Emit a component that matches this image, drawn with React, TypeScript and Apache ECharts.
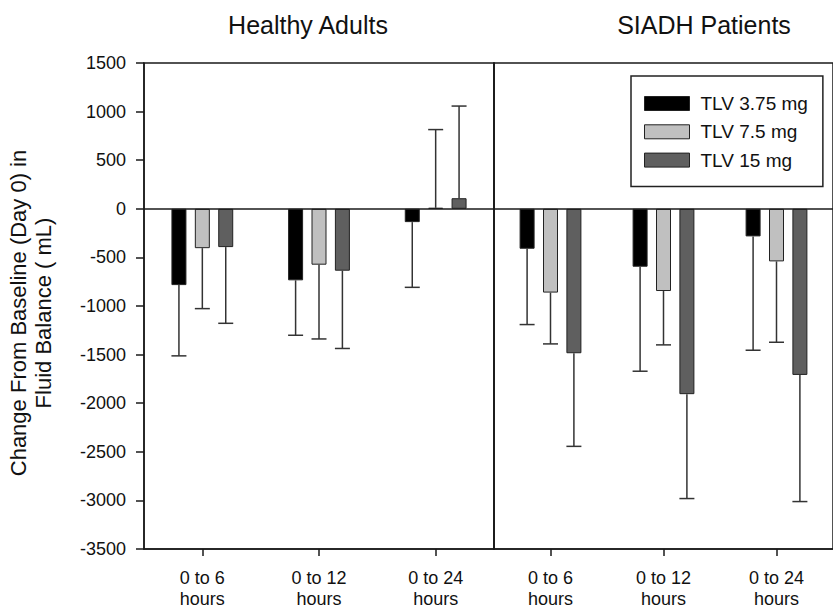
import React, { useEffect, useRef } from "react";
import * as echarts from "echarts";

const categories = ["0 to 6\nhours", "0 to 12\nhours", "0 to 24\nhours"];
const seriesNames = ["TLV 3.75 mg", "TLV 7.5 mg", "TLV 15 mg"];
const yTicks = { min: -3500, max: 1500, interval: 500 };

// Healthy Adults: mean and error-bar end
const healthy375 = [-785, -736, -137];
const healthy375Err = [-1513, -1301, -808];
const healthy75 = [-405, -575, 10];
const healthy75Err = [-1027, -1339, 815];
const healthy15 = [-394, -637, 109];
const healthy15Err = [-1178, -1437, 1057];

// SIADH Patients
const siadh375 = [-411, -596, -284];
const siadh375Err = [-1191, -1671, -1455];
const siadh75 = [-862, -846, -541];
const siadh75Err = [-1390, -1400, -1373];
const siadh15 = [-1486, -1907, -1709];
const siadh15Err = [-2444, -2981, -3012];

const colors = ["#000000", "#c0c0c0", "#5f5f5f"];
const FONT = "'Liberation Sans', Arial, Helvetica, sans-serif";
const LINE = "#1a1a1a";

export default function App() {
  const ref = useRef<HTMLDivElement>(null);
  useEffect(() => {
    if (!ref.current) return;
    const chart = echarts.init(ref.current, null, { renderer: "svg" });

    const groups = [
      { vals: [healthy375, healthy75, healthy15], errs: [healthy375Err, healthy75Err, healthy15Err] },
      { vals: [siadh375, siadh75, siadh15], errs: [siadh375Err, siadh75Err, siadh15Err] },
    ];
    const offsets = [-23.4, 0, 23.4];

    const series: any[] = [];
    groups.forEach((g, gi) => {
      g.vals.forEach((vals, si) => {
        const s: any = {
          type: "bar",
          name: seriesNames[si],
          xAxisIndex: gi,
          yAxisIndex: gi,
          data: vals,
          barWidth: 15,
          barGap: "56%",
          itemStyle: { color: colors[si], borderColor: "#222", borderWidth: 1 },
          z: 2,
        };
        if (si === 0) {
          s.markLine = {
            silent: true,
            symbol: "none",
            label: { show: false },
            lineStyle: { color: LINE, width: 1.5, type: "solid" },
            data: [{ yAxis: 0 }],
            z: 5,
          };
        }
        series.push(s);
      });
      g.errs.forEach((errs, si) => {
        series.push({
          type: "custom",
          name: "err" + gi + "_" + si,
          xAxisIndex: gi,
          yAxisIndex: gi,
          z: 3,
          encode: { x: 0, y: [1, 2] },
          data: errs.map((e, ci) => [ci, g.vals[si][ci], e]),
          renderItem: (params: any, api: any) => {
            const cat = api.value(0);
            const p0 = api.coord([cat, api.value(1)]);
            const p1 = api.coord([cat, api.value(2)]);
            const x = p0[0] + offsets[si];
            const st = { stroke: "#333", lineWidth: 1.5 };
            return {
              type: "group",
              children: [
                { type: "line", shape: { x1: x, y1: p0[1], x2: x, y2: p1[1] }, style: st },
                { type: "line", shape: { x1: x - 7.5, y1: p1[1], x2: x + 7.5, y2: p1[1] }, style: st },
              ],
            };
          },
        });
      });
    });

    const xAxisCommon = (gi: number) => ({
      type: "category",
      gridIndex: gi,
      data: categories,
      axisLine: { show: true, onZero: false, lineStyle: { color: LINE, width: 1.5 } },
      axisTick: { show: true, alignWithLabel: true, length: 7, lineStyle: { color: LINE, width: 1.5 } },
      axisLabel: { color: "#111", fontSize: 18, lineHeight: 21, margin: 18, fontFamily: FONT },
      splitLine: { show: false },
    });

    chart.setOption({
      animation: false,
      backgroundColor: "#ffffff",
      grid: [
        { left: 144, top: 63, width: 350, height: 487, show: true, borderColor: LINE, borderWidth: 1.5, backgroundColor: "transparent" },
        { left: 494, top: 63, width: 350, height: 487, show: true, borderColor: LINE, borderWidth: 1.5, backgroundColor: "transparent" },
      ],
      xAxis: [xAxisCommon(0), xAxisCommon(1)],
      yAxis: [
        {
          type: "value",
          gridIndex: 0,
          min: yTicks.min,
          max: yTicks.max,
          interval: yTicks.interval,
          axisLine: { show: true, lineStyle: { color: LINE, width: 1.5 } },
          axisTick: { show: true, length: 8, lineStyle: { color: LINE, width: 1.5 } },
          axisLabel: { color: "#111", fontSize: 18, margin: 18, fontFamily: FONT, formatter: (v: number) => String(v) },
          splitLine: { show: false },
        },
        {
          type: "value",
          gridIndex: 1,
          min: yTicks.min,
          max: yTicks.max,
          interval: yTicks.interval,
          axisLine: { show: true, lineStyle: { color: LINE, width: 1.5 } },
          axisTick: { show: false },
          axisLabel: { show: false },
          splitLine: { show: false },
        },
      ],
      legend: {
        data: seriesNames,
        orient: "vertical",
        left: 631,
        top: 76,
        padding: [18, 15, 17, 13],
        icon: "rect",
        itemWidth: 45,
        itemHeight: 14,
        itemGap: 9.3,
        borderColor: "#222",
        borderWidth: 1.5,
        backgroundColor: "#fff",
        textStyle: { fontSize: 19, lineHeight: 14, color: "#111", fontFamily: FONT, padding: [0, 0, 0, 6] },
        itemStyle: { borderColor: "#222", borderWidth: 1 },
        selectedMode: false,
      },
      graphic: [
        { type: "text", x: 308, y: 25, style: { text: "Healthy Adults", font: `25px ${FONT}`, fill: "#111", textAlign: "center", textVerticalAlign: "middle" } },
        { type: "text", x: 704, y: 25, style: { text: "SIADH Patients", font: `25px ${FONT}`, fill: "#111", textAlign: "center", textVerticalAlign: "middle" } },
        {
          type: "text",
          x: 31,
          y: 313,
          rotation: Math.PI / 2,
          style: {
            text: "Change From Baseline (Day 0) in\nFluid Balance ( mL)",
            font: `22px ${FONT}`,
            lineHeight: 25,
            fill: "#111",
            textAlign: "center",
            textVerticalAlign: "middle",
          },
        },
      ],
      series,
    });
    return () => chart.dispose();
  }, []);
  return <div ref={ref} style={{ position: "fixed", left: 0, top: 0, width: 833, height: 609 }} />;
}
